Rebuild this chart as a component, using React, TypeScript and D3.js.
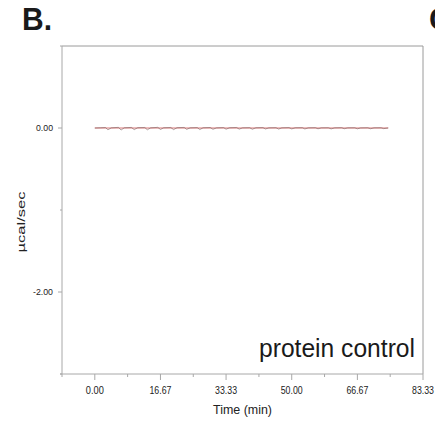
import React from "react";
import * as d3 from "d3";

const W = 435;
const H = 422;

// Tick values
const xMajorTicks = [0, 16.67, 33.33, 50, 66.67, 83.33];
const xTickLabels = ["0.00", "16.67", "33.33", "50.00", "66.67", "83.33"];
const xMinorTicks = [-8.33, 8.33, 25, 41.67, 58.33, 75];
const yMajorTicks = [0, -2];
const yTickLabels = ["0.00", "-2.00"];
const yMinorTicks = [1, -1, -3];

// Raw heat-flow trace (time in min, µcal/sec)
const timeMin = [
  0, 1.5,
  2.7, 3.33, 4.2, 6.0, 6.67, 7.5, 9.3, 10.0, 10.9, 12.7, 13.33, 14.2,
  16.0, 16.67, 17.5, 19.3, 20.0, 20.9, 22.7, 23.33, 24.2, 26.0, 26.67, 27.5,
  29.3, 30.0, 30.9, 32.7, 33.33, 34.2, 36.0, 36.67, 37.5, 39.3, 40.0, 40.9,
  42.7, 43.33, 44.2, 46.0, 46.67, 47.5, 49.3, 50.0, 50.9, 52.7, 53.33, 54.2,
  56.0, 56.67, 57.5, 59.3, 60.0, 60.9, 62.7, 63.33, 64.2, 66.0, 66.67, 67.5,
  69.3, 70.0, 70.9, 72.7, 73.33, 74.5,
];
const heatFlow = [
  0, 0.003,
  0.006, -0.022, 0.002, 0.008, -0.025, 0.003, 0.007, -0.02, 0.004, 0.006, -0.022, 0.002,
  0.008, -0.018, 0.003, 0.006, -0.02, 0.004, 0.007, -0.017, 0.002, 0.005, -0.019, 0.003,
  0.006, -0.016, 0.002, 0.005, -0.015, 0.003, 0.006, -0.014, 0.002, 0.004, -0.015, 0.003,
  0.005, -0.012, 0.002, 0.004, -0.013, 0.002, 0.005, -0.011, 0.003, 0.004, -0.012, 0.002,
  0.004, -0.01, 0.002, 0.003, -0.011, 0.002, 0.004, -0.009, 0.002, 0.003, -0.01, 0.001,
  0.003, -0.009, 0.002, 0.003, -0.008, 0.001,
];
// Fitted baseline
const baselineTime = [0, 74.5];
const baselineValue = [0, 0];

const left = 62, right = 423, top = 46, bottom = 374;

export default function App() {
  const x = d3.scaleLinear().domain([-8.33, 83.33]).range([left, right]);
  const y = d3.scaleLinear().domain([-3, 1]).range([bottom, top]);

  const line = d3
    .line<[number, number]>()
    .x((d) => x(d[0]))
    .y((d) => y(d[1]));

  const trace: [number, number][] = timeMin.map((t, i) => [t, heatFlow[i]]);
  const base: [number, number][] = baselineTime.map((t, i) => [t, baselineValue[i]]);

  const font = "'Liberation Sans', Arial, Helvetica, sans-serif";
  const axisColor = "#a8a8a8";

  return (
    <svg
      width={W}
      height={H}
      style={{ position: "absolute", left: 0, top: 0, background: "#fff" }}
      fontFamily={font}
    >
      <rect x={0} y={0} width={W} height={H} fill="#fff" />
      {/* panel letters */}
      <text x={22} y={30} fontSize={31} fontWeight="bold" fill="#1a1a1a" textLength={30} lengthAdjust="spacingAndGlyphs">
        B.
      </text>
      <text x={429} y={30} fontSize={31} fontWeight="bold" fill="#1a1a1a">
        C.
      </text>

      {/* frame */}
      <line x1={left} x2={right} y1={top} y2={top} stroke="#9a9a9a" strokeWidth={1} />
      <line x1={right} x2={right} y1={top} y2={bottom} stroke="#9a9a9a" strokeWidth={1} />
      <line x1={left} x2={left} y1={top} y2={bottom} stroke={axisColor} strokeWidth={1} />
      <line x1={left - 2} x2={right} y1={bottom} y2={bottom} stroke={axisColor} strokeWidth={1} />

      {/* y ticks */}
      {yMajorTicks.map((v, i) => (
        <g key={"ym" + i}>
          <line x1={left - 4} x2={left} y1={y(v)} y2={y(v)} stroke={axisColor} />
          <text x={53} y={y(v) + 3.4} fontSize={9.5} textAnchor="end" fill="#222" textLength={v < 0 ? 20 : 17} lengthAdjust="spacingAndGlyphs">
            {yTickLabels[i]}
          </text>
        </g>
      ))}
      {yMinorTicks.map((v, i) => (
        <line key={"yn" + i} x1={left - 2} x2={left} y1={y(v)} y2={y(v)} stroke={axisColor} />
      ))}

      {/* x ticks */}
      {xMajorTicks.map((v, i) => (
        <g key={"xm" + i}>
          <line x1={x(v)} x2={x(v)} y1={bottom} y2={bottom + 6} stroke={axisColor} />
          <text x={x(v)} y={394} fontSize={10.5} textAnchor="middle" fill="#222" textLength={xTickLabels[i].length > 4 ? 22 : 18} lengthAdjust="spacingAndGlyphs">
            {xTickLabels[i]}
          </text>
        </g>
      ))}
      {xMinorTicks.map((v, i) => (
        <line key={"xn" + i} x1={x(v)} x2={x(v)} y1={bottom} y2={bottom + 3} stroke={axisColor} />
      ))}

      {/* axis titles */}
      <text x={242.5} y={414} fontSize={12.5} textAnchor="middle" fill="#222" textLength={59} lengthAdjust="spacingAndGlyphs">
        Time (min)
      </text>
      <text
        transform="translate(25,222) rotate(-90)"
        fontSize={11}
        textAnchor="middle"
        fill="#222"
        textLength={61}
        lengthAdjust="spacingAndGlyphs"
      >
        µcal/sec
      </text>

      {/* data */}
      <path d={line(base) || ""} fill="none" stroke="#d46a6a" strokeWidth={0.9} />
      <path d={line(trace) || ""} fill="none" stroke="#6b5050" strokeWidth={0.7} strokeOpacity={0.75} />

      {/* annotation */}
      <text x={259} y={357} fontSize={25} fill="#1a1a1a" textLength={156} lengthAdjust="spacingAndGlyphs">
        protein control
      </text>
    </svg>
  );
}
